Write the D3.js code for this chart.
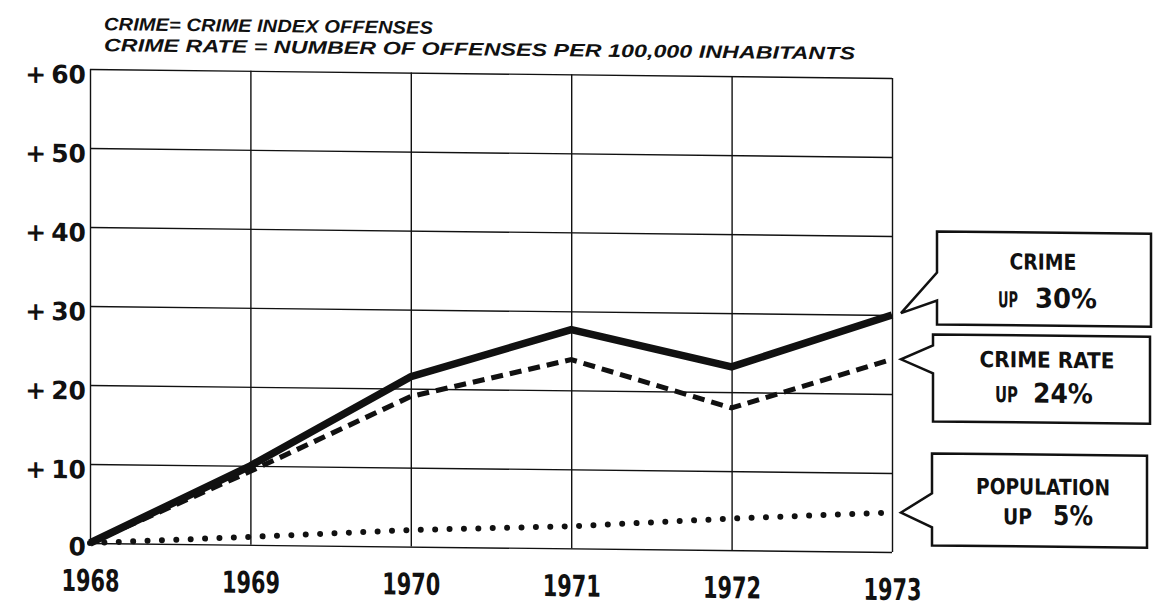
<!DOCTYPE html>
<html>
<head>
<meta charset="utf-8">
<script src="https://cdn.jsdelivr.net/npm/d3@7"></script>
<style>
  html, body { margin: 0; padding: 0; background: #fff; }
  svg { display: block; }
</style>
</head>
<body>
<svg id="chart" width="1171" height="608"></svg>
<script>
// data (percent change since 1968)
const years = [1968, 1969, 1970, 1971, 1972, 1973];
const crime = [0, 10, 21.5, 27.7, 23.2, 30];
const crimeRate = [0, 9.3, 19, 23.9, 18, 24.4];
const population = [0, 1, 2.1, 2.8, 4, 5];
const yTicks = [0, 10, 20, 30, 40, 50, 60];

const notes = [
  "CRIME= CRIME INDEX OFFENSES",
  "CRIME RATE = NUMBER OF OFFENSES PER 100,000 INHABITANTS"
];
const calloutTitles = ["CRIME", "CRIME RATE", "POPULATION"];
const calloutPcts = ["30%", "24%", "5%"];

const ink = "#111";
const narrow = "'DejaVu Sans Condensed', 'Liberation Sans Narrow', sans-serif";
const heavy = "'DejaVu Sans', sans-serif";

const svg = d3.select("#chart");
svg.append("rect").attr("width", 1171).attr("height", 608).attr("fill", "#fff");

// the scan is slightly sheared, right side sits lower
const root = svg.append("g")
  .attr("transform", "translate(90,0) skewY(0.64) translate(-90,0)");

const x = d3.scaleLinear().domain([1968, 1973]).range([90, 892]);
const y = d3.scaleLinear().domain([0, 60]).range([543, 69]);

// notes on top
root.selectAll(".note")
  .data(notes)
  .enter()
  .append("text")
  .attr("class", "note")
  .attr("x", 104)
  .attr("y", (d, i) => 30 + i * 21)
  .attr("textLength", (d, i) => (i === 0 ? 329 : 751))
  .attr("lengthAdjust", "spacingAndGlyphs")
  .attr("fill", ink)
  .style("font-family", "'Liberation Sans', Arial, sans-serif")
  .style("font-weight", "bold")
  .style("font-style", "italic")
  .style("font-size", "18px")
  .text(d => d);

// grid
root.append("g")
  .attr("transform", `translate(0,${y(0)})`)
  .call(d3.axisBottom(x).tickValues(years).tickSize(-(y(0) - y(60))).tickFormat(""))
  .call(g => g.select(".domain").remove())
  .call(g => g.selectAll(".tick line").attr("stroke", ink).attr("stroke-width", 1.4));

root.append("g")
  .attr("transform", `translate(${x(1968)},0)`)
  .call(d3.axisLeft(y).tickValues(yTicks).tickSize(-(x(1973) - x(1968))).tickFormat(""))
  .call(g => g.select(".domain").remove())
  .call(g => g.selectAll(".tick line").attr("stroke", ink).attr("stroke-width", 1.4));

// axis labels
root.append("g")
  .attr("transform", `translate(0,${y(0)})`)
  .call(d3.axisBottom(x).tickValues(years).tickSize(0).tickFormat(d3.format("d")))
  .call(g => g.select(".domain").remove())
  .call(g => g.selectAll(".tick text")
    .attr("y", 48).attr("dy", 0)
    .attr("textLength", 58)
    .attr("lengthAdjust", "spacingAndGlyphs")
    .attr("fill", ink)
    .style("font-family", narrow)
    .style("font-weight", "bold")
    .style("font-size", "30px"));

root.append("g")
  .attr("transform", `translate(${x(1968)},0)`)
  .call(d3.axisLeft(y).tickValues(yTicks).tickSize(0).tickPadding(4)
    .tickFormat(d => (d === 0 ? "0" : "+\u2009" + d)))
  .call(g => g.select(".domain").remove())
  .call(g => g.selectAll(".tick text")
    .attr("dy", d => (d === 0 ? "0.48em" : "0.56em"))
    .attr("fill", ink)
    .style("font-family", heavy)
    .style("font-weight", "bold")
    .style("font-size", "25px"));

// series
const line = d3.line().x((d, i) => x(years[i])).y(d => y(d));

root.append("path")
  .datum(population)
  .attr("d", line)
  .attr("fill", "none")
  .attr("stroke", ink)
  .attr("stroke-width", 6)
  .attr("stroke-linecap", "round")
  .attr("stroke-dasharray", "0,14.4");

root.append("path")
  .datum(crimeRate)
  .attr("d", line)
  .attr("fill", "none")
  .attr("stroke", ink)
  .attr("stroke-width", 5)
  .attr("stroke-dasharray", "12,7");

root.append("path")
  .datum(crime)
  .attr("d", line)
  .attr("fill", "none")
  .attr("stroke", ink)
  .attr("stroke-width", 7.5);

// callout boxes
const lastOf = arr => arr[arr.length - 1];
const boxes = [
  { l: 937, t: 222, r: 1151, b: 315, y1: 263, y2: 291, tip: y(lastOf(crime)) - 2,
    cx: 1043, ty: 259, tw: 67, uy: 297, ux: 998, uw: 20, px: 1035, pw: 62 },
  { l: 933, t: 325, r: 1150, b: 412, y1: 336, y2: 364, tip: y(lastOf(crimeRate)),
    cx: 1047, ty: 357, tw: 135, uy: 392, ux: 995, uw: 23, px: 1033, pw: 60 },
  { l: 932, t: 444, r: 1147, b: 536, y1: 484, y2: 518, tip: y(lastOf(population)),
    cx: 1043, ty: 484, tw: 134, uy: 514, ux: 1003, uw: 29, px: 1053, pw: 40 }
];

const callout = root.selectAll(".callout")
  .data(boxes)
  .enter()
  .append("g")
  .attr("class", "callout");

callout.append("path")
  .attr("d", d => `M${d.l},${d.t}H${d.r}V${d.b}H${d.l}V${d.y2}L${x(1973) + 9},${d.tip}L${d.l},${d.y1}Z`)
  .attr("fill", "#fff")
  .attr("stroke", ink)
  .attr("stroke-width", 2.5)
  .attr("stroke-linejoin", "miter");

callout.append("text")
  .attr("x", d => d.cx - d.tw / 2)
  .attr("y", d => d.ty)
  .attr("textLength", d => d.tw)
  .attr("lengthAdjust", "spacingAndGlyphs")
  .attr("fill", ink)
  .style("font-family", narrow)
  .style("font-weight", "bold")
  .style("font-size", "22px")
  .text((d, i) => calloutTitles[i]);

callout.append("text")
  .attr("x", d => d.ux)
  .attr("y", d => d.uy)
  .attr("textLength", d => d.uw)
  .attr("lengthAdjust", "spacingAndGlyphs")
  .attr("fill", ink)
  .style("font-family", narrow)
  .style("font-weight", "bold")
  .style("font-size", "22px")
  .text("UP");

callout.append("text")
  .attr("x", d => d.px)
  .attr("y", d => d.uy)
  .attr("textLength", d => d.pw)
  .attr("lengthAdjust", "spacingAndGlyphs")
  .attr("fill", ink)
  .style("font-family", heavy)
  .style("font-weight", "bold")
  .style("font-size", "27px")
  .text((d, i) => calloutPcts[i]);
</script>
</body>
</html>
